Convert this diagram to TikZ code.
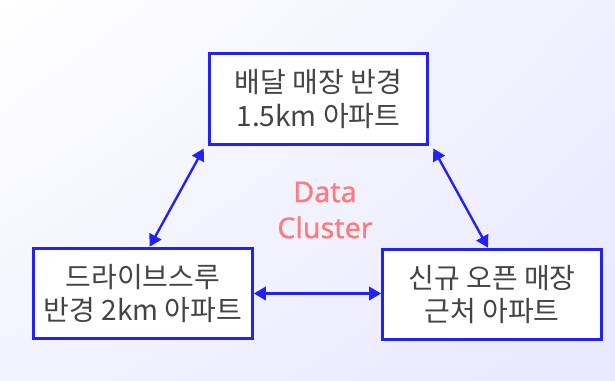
\documentclass[tikz,border=0pt]{standalone}
\usepackage{fontspec}
\setmainfont{Noto Sans CJK KR}
\newfontfamily\labelfont[FakeBold=0.8]{Noto Sans}
\usetikzlibrary{arrows.meta,shadings}
\definecolor{boxblue}{HTML}{2222F5}
\definecolor{txtgray}{HTML}{444444}
\definecolor{salmon}{HTML}{FF7B7B}
\tikzset{
  centered/.style = { align=center, anchor=center },
   areabox/.style = { draw=boxblue, line width=2.2pt, fill=white, centered,
                      minimum width=164pt, minimum height=68pt,
                      text=txtgray, font=\fontsize{21}{25}\selectfont },
   biarrow/.style = { line width=1.8pt, color=boxblue, {Triangle[length=9pt,width=10pt]}-{Triangle[length=9pt,width=10pt]} },
  clustertxt/.style = { centered, text=salmon, font=\labelfont\fontsize{21.5}{27}\selectfont }
}
\begin{document}
\begin{tikzpicture}[x=0.75pt,y=-0.75pt]
  % background
  \shade[upper left=white, upper right=blue!6, lower left=blue!5, lower right=blue!9]
    (0,0) rectangle (615,380);
  \useasboundingbox (0,0) rectangle (615,380);

  \node[areabox] (delivery) at (318.5,99) {배달 매장 반경\\1.5km 아파트};
  \node[areabox] (drive)    at (143,293.5) {드라이브스루\\반경 2km 아파트};
  \node[areabox] (newshop)  at (492,294.5) {신규 오픈 매장\\근처 아파트};

  \node[clustertxt] (cluster) at (325,210) {Data\\Cluster};

  \draw [biarrow] ([xshift=-3pt,yshift=-2pt]delivery.south west) -- ([xshift=5pt]drive.north);
  \draw [biarrow] ([xshift=3pt,yshift=-2pt]delivery.south east) -- ([xshift=-3pt]newshop.north);
  \draw [biarrow] (drive.east) -- (drive.east -| newshop.west);
\end{tikzpicture}
\end{document}
